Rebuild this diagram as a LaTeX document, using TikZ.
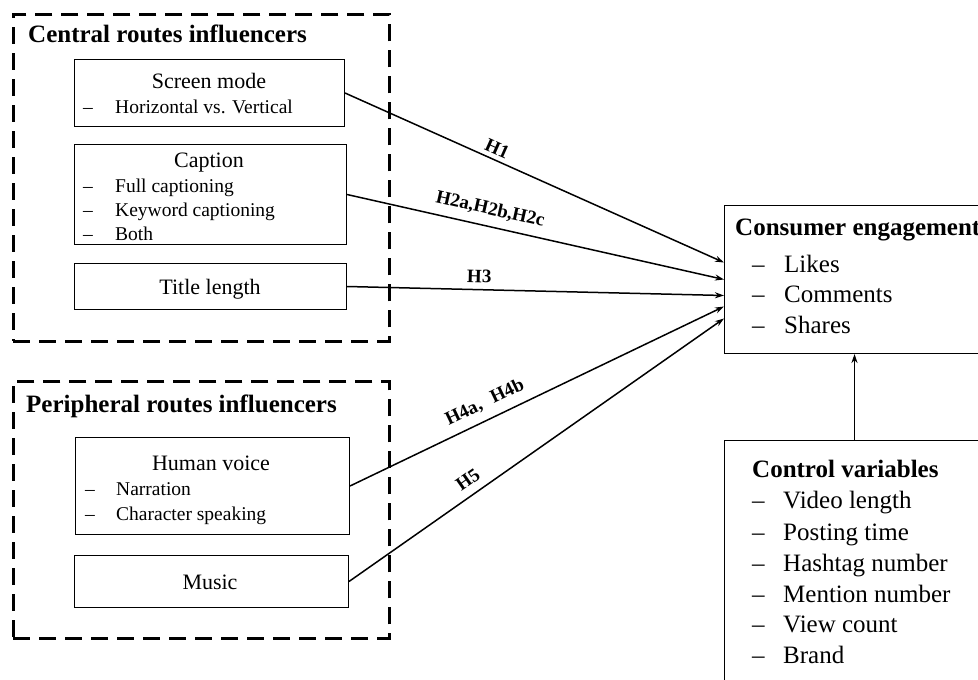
\documentclass[tikz,border=0pt]{standalone}
\usepackage{fontspec}
\setmainfont{Liberation Serif}
\usetikzlibrary{arrows.meta,calc}
\begin{document}
\begin{tikzpicture}[x=1pt,y=-1pt,
  box/.style={draw, line width=1pt, inner sep=0pt, anchor=north west},
  grp/.style={draw, line width=2.6pt, dash pattern=on 17pt off 9pt, inner sep=0pt, anchor=north west},
  grptitle/.style={font=\bfseries\fontsize{25}{30}\selectfont, anchor=base west, inner sep=0pt},
  head/.style={font=\fontsize{22}{26}\selectfont, anchor=base, inner sep=0pt},
  item/.style={font=\fontsize{19.5}{23}\selectfont, anchor=base west, inner sep=0pt},
  rtitle/.style={font=\bfseries\fontsize{25}{30}\selectfont, anchor=base west, inner sep=0pt},
  ritem/.style={font=\fontsize{25}{30}\selectfont, anchor=base west, inner sep=0pt},
  conn/.style={line width=1.5pt, -{Stealth[length=9pt,width=6pt]}},
  hlab/.style={font=\bfseries\fontsize{19}{22}\selectfont, sloped, inner sep=0pt}
]
\useasboundingbox (0,0) rectangle (978,680);
\clip (0,0) rectangle (978,680);
\fill[white] (0,0) rectangle (978,680);

% group boxes
\node[grp, minimum width=376pt, minimum height=327pt] (central) at (12,13) {};
\node[grp, minimum width=376pt, minimum height=257pt] (periph) at (12,380) {};
\node[grptitle] (centraltitle) at (28,42) {Central routes influencers};
\node[grptitle] (periphtitle) at (26,412) {Peripheral routes influencers};

% left boxes
\node[box, minimum width=270pt, minimum height=67pt] (screen) at (74,59) {};
\node[head] (screenh) at (209,88) {Screen mode};
\node[item] (screend1) at (83,113) {–};
\node[item] (screeni1) at (115,113) {Horizontal vs. Vertical};

\node[box, minimum width=272pt, minimum height=100pt] (caption) at (74,144) {};
\node[head] (captionh) at (209,167) {Caption};
\node[item] (capd1) at (83,192) {–};
\node[item] (capi1) at (115,192) {Full captioning};
\node[item] (capd2) at (83,216) {–};
\node[item] (capi2) at (115,216) {Keyword captioning};
\node[item] (capd3) at (83,240) {–};
\node[item] (capi3) at (115,240) {Both};

\node[box, minimum width=272pt, minimum height=46pt] (title) at (74,263) {};
\node[head] (titleh) at (210,294) {Title length};

\node[box, minimum width=274pt, minimum height=97pt] (voice) at (75,437) {};
\node[head] (voiceh) at (211,470) {Human voice};
\node[item] (void1) at (85,495) {–};
\node[item] (voii1) at (116,495) {Narration};
\node[item] (void2) at (85,520) {–};
\node[item] (voii2) at (116,520) {Character speaking};

\node[box, minimum width=274pt, minimum height=52pt] (music) at (74,555) {};
\node[head] (musich) at (210,589) {Music};

% right boxes
\node[box, minimum width=260pt, minimum height=148pt] (ce) at (724,205) {};
\node[rtitle] (cetitle) at (735,235) {Consumer engagement};
\node[ritem] (ced1) at (752,272) {–};
\node[ritem] (cei1) at (784,272) {Likes};
\node[ritem] (ced2) at (752,302) {–};
\node[ritem] (cei2) at (784,302) {Comments};
\node[ritem] (ced3) at (752,333) {–};
\node[ritem] (cei3) at (784,333) {Shares};

\node[box, minimum width=260pt, minimum height=280pt] (cv) at (724,440) {};
\node[rtitle] (cvtitle) at (752,477) {Control variables};
\node[ritem] (cvd1) at (752,508) {–};
\node[ritem] (cvi1) at (783,508) {Video length};
\node[ritem] (cvd2) at (752,540) {–};
\node[ritem] (cvi2) at (783,540) {Posting time};
\node[ritem] (cvd3) at (752,571) {–};
\node[ritem] (cvi3) at (783,571) {Hashtag number};
\node[ritem] (cvd4) at (752,602) {–};
\node[ritem] (cvi4) at (783,602) {Mention number};
\node[ritem] (cvd5) at (752,632) {–};
\node[ritem] (cvi5) at (783,632) {View count};
\node[ritem] (cvd6) at (752,663) {–};
\node[ritem] (cvi6) at (783,663) {Brand};

% connectors
\draw[conn] (screen.east) -- node[hlab, pos=0.39, above=4pt] {H1} ([yshift=17pt]ce.west);
\draw[conn] (caption.east) -- node[hlab, pos=0.37, above=8pt] {H2a,H2b,H2c} ([yshift=0pt]ce.west);
\draw[conn] (title.east) -- node[hlab, pos=0.35, above=6pt] {H3} ([yshift=-16pt]ce.west);
\draw[conn] (voice.east) -- node[hlab, pos=0.38, above=8pt] {H4a,\hspace{0.6em}H4b} ([yshift=-27pt]ce.west);
\draw[conn] (music.east) -- node[hlab, pos=0.34, above=8pt] {H5} ([yshift=-39pt]ce.west);
\draw[conn] (cv.north) -- (ce.south);
\end{tikzpicture}
\end{document}
